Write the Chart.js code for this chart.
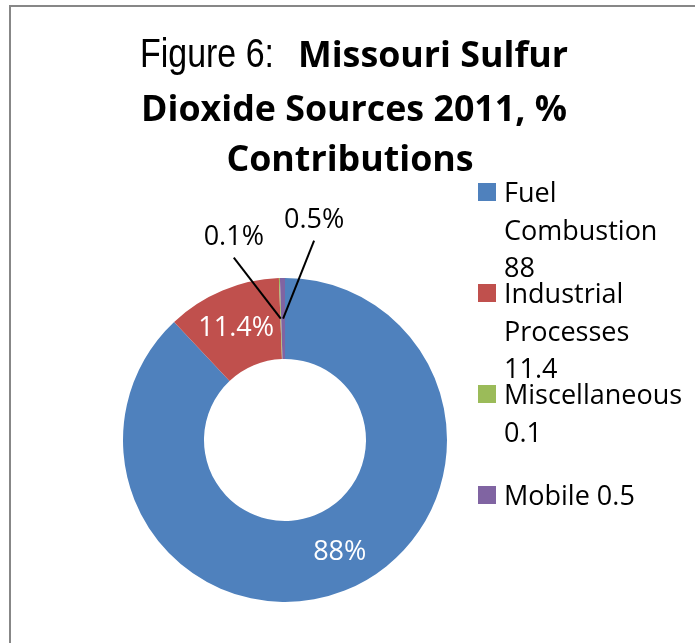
<!DOCTYPE html>
<html>
<head>
<meta charset="utf-8">
<script src="https://cdn.jsdelivr.net/npm/chart.js@4.4.0/dist/chart.umd.min.js"></script>
<style>
  html, body { margin: 0; padding: 0; background: #fff; }
  #box { width: 695px; height: 643px; }
</style>
</head>
<body>
<div id="box"><canvas id="pie-chart" width="695" height="643"></canvas></div>
<script>
// SO2 sources, percent of total
var sources = ["Fuel Combustion", "Industrial Processes", "Miscellaneous", "Mobile"];
var shares = [88, 11.4, 0.1, 0.5];
var colors = ["#4F81BD", "#C0504D", "#9BBB59", "#8064A2"];
var titlePrefix = "Figure 6:";
var titleLines = ["Missouri Sulfur", "Dioxide Sources 2011, %", "Contributions"];

var bodyFont = "27px 'Open Sans', sans-serif";

// grey frame round the whole chart
var framePlugin = {
    id: 'frame',
    beforeDraw: function(chart) {
        var ctx = chart.ctx;
        ctx.save();
        ctx.strokeStyle = '#878787';
        ctx.lineWidth = 2;
        ctx.strokeRect(10, 6, 900, 900);
        ctx.restore();
    }
};

// title: narrow "Figure 6:" then bold text, three centred lines
var titlePlugin = {
    id: 'mixedTitle',
    afterDraw: function(chart) {
        var ctx = chart.ctx;
        var cx = 354;
        var boldFont = "bold 36px 'Open Sans', sans-serif";
        var thinFont = "41px 'Liberation Sans', sans-serif";
        ctx.save();
        ctx.fillStyle = '#000';
        ctx.textBaseline = 'alphabetic';

        ctx.font = boldFont;
        var bx = 426 / ctx.measureText(titleLines[1]).width;
        var firstW = ctx.measureText(titleLines[0]).width * bx;
        var w2 = ctx.measureText(titleLines[1]).width * bx;
        var w3 = ctx.measureText(titleLines[2]).width * bx;

        ctx.font = thinFont;
        var nx = 134 / ctx.measureText(titlePrefix).width;
        var prefixW = 134;
        var gap = 24;
        var x0 = cx - (prefixW + gap + firstW) / 2;

        function put(text, x, y, font, sx) {
            ctx.save();
            ctx.font = font;
            ctx.translate(x, y);
            ctx.scale(sx, 1);
            ctx.textAlign = 'left';
            ctx.fillText(text, 0, 0);
            ctx.restore();
        }

        put(titlePrefix, x0, 67, thinFont, nx);
        put(titleLines[0], x0 + prefixW + gap, 67, boldFont, bx);
        put(titleLines[1], cx - w2 / 2, 121, boldFont, bx);
        put(titleLines[2], cx - 4 - w3 / 2, 171, boldFont, bx);
        ctx.restore();
    }
};

// percent labels; the two thin slices get leader lines
var labelNudge = [[10, -1], [-2, 0], null, null];
var leaderOffsets = [null, null, [-47, -61], [31, -78]];
var labelPlugin = {
    id: 'sliceLabels',
    afterDatasetsDraw: function(chart) {
        var ctx = chart.ctx;
        var arcs = chart.getDatasetMeta(0).data;
        ctx.save();
        ctx.font = bodyFont;
        ctx.textAlign = 'center';
        ctx.textBaseline = 'middle';
        arcs.forEach(function(arc, i) {
            var p = arc.tooltipPosition();
            var txt = shares[i] + '%';
            var off = leaderOffsets[i];
            if (!off) {
                ctx.fillStyle = '#fff';
                ctx.fillText(txt, p.x + labelNudge[i][0], p.y + labelNudge[i][1]);
                return;
            }
            var ex = p.x + off[0], ey = p.y + off[1];
            ctx.strokeStyle = '#000';
            ctx.lineWidth = 2;
            ctx.beginPath();
            ctx.moveTo(p.x, p.y);
            ctx.lineTo(ex, ey);
            ctx.stroke();
            ctx.fillStyle = '#000';
            ctx.fillText(txt, ex, ey - 20);
        });
        ctx.restore();
    }
};

// legend on the right, words wrapped onto several lines
var legendPlugin = {
    id: 'wrapLegend',
    afterDraw: function(chart) {
        var ctx = chart.ctx;
        ctx.save();
        ctx.font = bodyFont;
        ctx.textBaseline = 'alphabetic';
        ctx.textAlign = 'left';
        sources.forEach(function(name, i) {
            var words = (name + ' ' + shares[i]).split(' ');
            var lines = [];
            var cur = '';
            words.forEach(function(w) {
                var t = cur ? cur + ' ' + w : w;
                if (cur && ctx.measureText(t).width > 160) {
                    lines.push(cur);
                    cur = w;
                } else {
                    cur = t;
                }
            });
            lines.push(cur);
            var base = 202 + i * 101;
            ctx.fillStyle = colors[i];
            ctx.fillRect(478, base - 19, 18, 18);
            ctx.fillStyle = '#000';
            lines.forEach(function(l, j) {
                ctx.fillText(l, 504, base + j * 37.7);
            });
        });
        ctx.restore();
    }
};

new Chart(document.getElementById("pie-chart"), {
    type: 'doughnut',
    data: {
        labels: sources,
        datasets: [{
            data: shares,
            backgroundColor: colors,
            borderWidth: 0,
            hoverOffset: 0
        }]
    },
    options: {
        responsive: false,
        animation: false,
        cutout: '50%',
        layout: {
            padding: { left: 123, right: 248, top: 278, bottom: 41 }
        },
        plugins: {
            legend: { display: false },
            title: { display: false },
            tooltip: { enabled: false }
        }
    },
    plugins: [framePlugin, titlePlugin, labelPlugin, legendPlugin]
});
</script>
</body>
</html>
